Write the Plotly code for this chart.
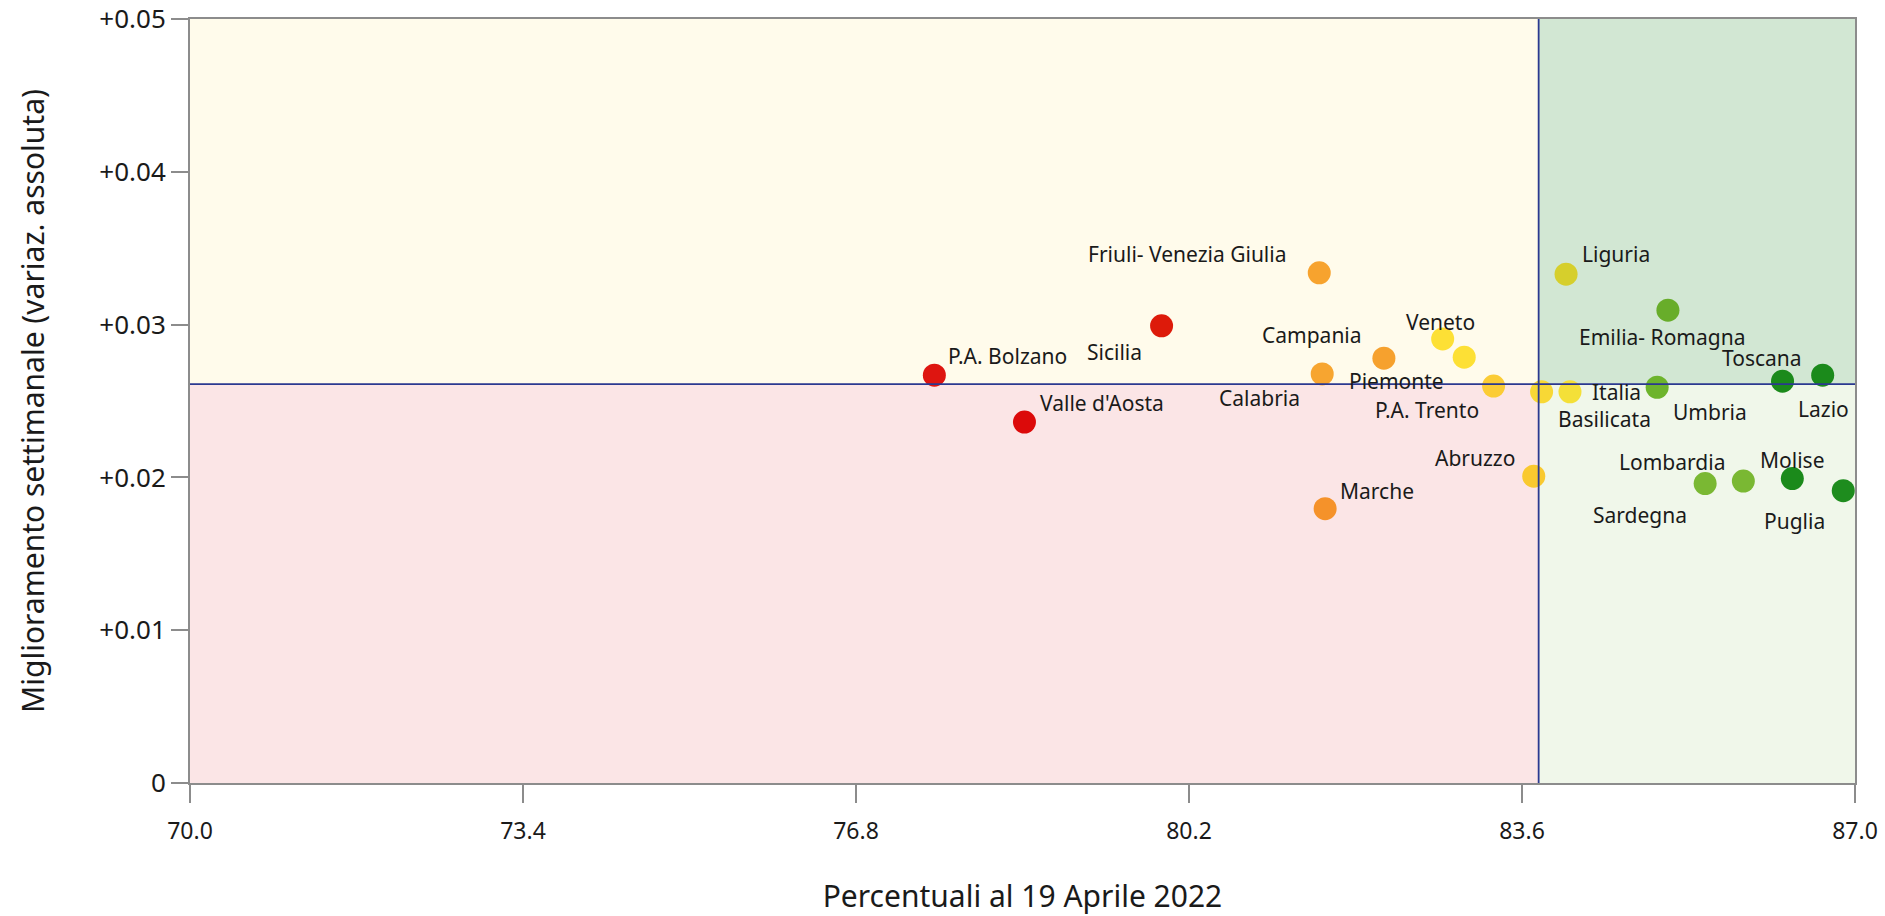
import plotly.graph_objects as go

regions = ["P.A. Bolzano", "Valle d'Aosta", "Sicilia", "Friuli- Venezia Giulia", "Campania",
           "Calabria", "Marche", "Veneto", "Piemonte", "P.A. Trento", "Abruzzo", "Basilicata",
           "Italia", "Liguria", "Emilia- Romagna", "Umbria", "Lazio", "Toscana", "Sardegna",
           "Lombardia", "Molise", "Puglia"]
pct = [77.60, 78.52, 79.92, 81.53, 82.19, 81.56, 81.59, 82.79, 83.01, 83.31, 83.72, 83.80,
       84.09, 84.05, 85.09, 84.98, 86.26, 86.67, 85.47, 85.86, 86.36, 86.88]
improv = [0.02669, 0.02362, 0.02992, 0.03339, 0.02780, 0.02677, 0.01795, 0.02906, 0.02787,
          0.02598, 0.02008, 0.02560, 0.02560, 0.03330, 0.03094, 0.02590, 0.02630, 0.02669,
          0.01960, 0.01976, 0.01992, 0.01913]
colors = ["#de1510", "#dc0a0a", "#dd1a0a", "#f7a32e", "#f6a12e", "#f7a530", "#f5922a", "#fde035",
          "#fde035", "#fbcc35", "#f9c92f", "#f8d835", "#f4e038", "#d6cf2c", "#68ad2a", "#6db42c",
          "#1b8a1b", "#1b8a1b", "#7ab833", "#7ab833", "#1b8a1b", "#1e8c1e"]

x_ticks = [70.0, 73.4, 76.8, 80.2, 83.6, 87.0]
x_ticktext = ["70.0", "73.4", "76.8", "80.2", "83.6", "87.0"]
y_ticks = [0, 0.01, 0.02, 0.03, 0.04, 0.05]
y_ticktext = ["0", "+0.01", "+0.02", "+0.03", "+0.04", "+0.05"]

x_split = 83.77
y_split = 0.0261

# label placement (anchor, xshift px, yshift px)
label_pos = {
    "P.A. Bolzano": ("left", 12, 19), "Valle d'Aosta": ("left", 14, 19),
    "Sicilia": ("right", -18, -26), "Friuli- Venezia Giulia": ("right", -30, 19),
    "Campania": ("right", -20, 23), "Calabria": ("right", -20, -24),
    "Marche": ("left", 13, 18), "Veneto": ("center", -2, 17),
    "Piemonte": ("right", -18, -24), "P.A. Trento": ("right", -13, -24),
    "Abruzzo": ("right", -17, 18), "Italia": ("left", 20, 0),
    "Basilicata": ("left", 14, -27), "Liguria": ("left", 14, 20),
    "Emilia- Romagna": ("center", -6, -27), "Toscana": ("right", -19, 17),
    "Lazio": ("left", 13, -28), "Umbria": ("left", 14, -25),
    "Lombardia": ("right", -16, 19), "Sardegna": ("right", -16, -31),
    "Molise": ("center", 0, 19), "Puglia": ("right", -16, -30),
}

fig = go.Figure()
fig.add_trace(go.Scatter(x=pct, y=improv, mode="markers",
                         marker=dict(size=23, color=colors, line=dict(width=0)),
                         text=regions, hoverinfo="text+x+y", showlegend=False))

for name, xv, yv in zip(regions, pct, improv):
    anc, dx, dy = label_pos[name]
    fig.add_annotation(x=xv, y=yv, text=name, showarrow=False, xanchor=anc, yanchor="middle",
                       xshift=dx, yshift=dy,
                       font=dict(family="Noto Sans", size=21, color="#1a1a1a"))

shapes = [
    dict(type="rect", x0=70, x1=x_split, y0=y_split, y1=0.05, fillcolor="#fffbeb", line_width=0, layer="below"),
    dict(type="rect", x0=70, x1=x_split, y0=0, y1=y_split, fillcolor="#fbe5e6", line_width=0, layer="below"),
    dict(type="rect", x0=x_split, x1=87, y0=y_split, y1=0.05, fillcolor="#d2e7d3", line_width=0, layer="below"),
    dict(type="rect", x0=x_split, x1=87, y0=0, y1=y_split, fillcolor="#f0f7ea", line_width=0, layer="below"),
    dict(type="line", x0=x_split, x1=x_split, y0=0, y1=0.05, line=dict(color="#2b3990", width=1.8), layer="above"),
    dict(type="line", x0=70, x1=87, y0=y_split, y1=y_split, line=dict(color="#2b3990", width=1.8), layer="above"),
]

fig.update_layout(
    width=1885, height=916,
    margin=dict(l=190, r=30, t=19, b=133, autoexpand=False),
    paper_bgcolor="white", plot_bgcolor="white",
    shapes=shapes,
    xaxis=dict(range=[70, 87], tickvals=x_ticks, ticktext=x_ticktext, showgrid=False, zeroline=False,
               showline=True, linecolor="#8c8c8c", linewidth=2, mirror=True, automargin=False,
               ticks="outside", ticklen=18, tickcolor="#8c8c8c", tickwidth=1.5,
               ticklabelstandoff=8, ticklabeloverflow="allow",
               tickfont=dict(family="Noto Sans", size=23, color="#1a1a1a"),
               title=dict(text="Percentuali al 19 Aprile 2022", standoff=42,
                          font=dict(family="Noto Sans", size=30, color="#1a1a1a"))),
    yaxis=dict(range=[0, 0.05], tickvals=y_ticks, ticktext=y_ticktext, showgrid=False, zeroline=False,
               showline=True, linecolor="#8c8c8c", linewidth=2, mirror=True, automargin=False,
               ticks="outside", ticklen=17, tickcolor="#8c8c8c", tickwidth=1.5,
               ticklabeloverflow="allow",
               tickfont=dict(family="Noto Sans", size=26, color="#1a1a1a"),
               title=dict(text="Miglioramento settimanale (variaz. assoluta)", standoff=46,
                          font=dict(family="Noto Sans", size=30, color="#1a1a1a"))),
)

fig.write_html("out.html", config={"displayModeBar": False},
               post_script="document.body.style.margin='0';document.body.style.overflow='hidden';")
